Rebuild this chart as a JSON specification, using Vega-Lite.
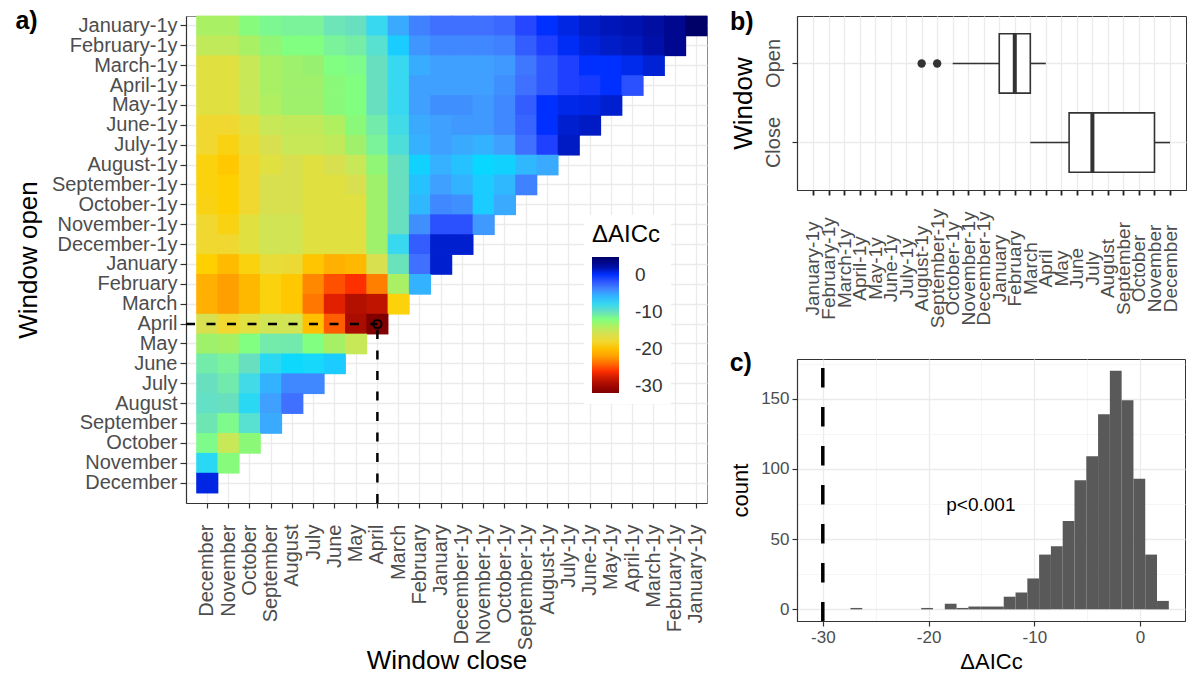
{
"$schema": "https://vega.github.io/schema/vega-lite/v6.json",
"background": "white",
"padding": {"left": 14, "top": 8, "right": 2, "bottom": 2},
"spacing": 21,
"config": {
  "font": "Liberation Sans",
  "view": {"stroke": "#333333", "strokeWidth": 1},
  "axis": {"gridColor": "#EBEBEB", "gridWidth": 1.3, "domainColor": "#333333", "domainWidth": 1.2, "tickColor": "#333333", "tickWidth": 1.2, "tickSize": 5, "labelColor": "#4D4D4D", "labelFontSize": 19, "labelPadding": 3, "titleFontSize": 26, "titleFontWeight": "normal", "titleColor": "black", "titlePadding": 10, "labelOverlap": false, "labelBound": false, "labelFlush": false, "zindex": 0},
  "title": {"fontSize": 25, "fontWeight": "bold", "anchor": "start", "frame": "bounds", "offset": -19, "baseline": "alphabetic", "color": "black"}
},
"datasets": {
  "box": [
    {"window": "Open", "lower": 9, "q1": 12, "median": 13, "q3": 14, "upper": 15},
    {"window": "Close", "lower": 14, "q1": 16.5, "median": 18, "q3": 22, "upper": 23}
  ],
  "outliers": [{"window": "Open", "value": 7}, {"window": "Open", "value": 8}]
},
"hconcat": [
{
  "title": {"text": "a)"},
  "width": 521, "height": 487,
  "view": {"stroke": "#8c8c8c"},
  "layer": [
    {
      "data": {"values": [
{"r":0,"c":0,"v":-13.7},{"r":0,"c":1,"v":-13.7},{"r":0,"c":2,"v":-12.3},{"r":0,"c":3,"v":-11.5},{"r":0,"c":4,"v":-11.2},{"r":0,"c":5,"v":-11.2},{"r":0,"c":6,"v":-10.3},{"r":0,"c":7,"v":-10},{"r":0,"c":8,"v":-8},{"r":0,"c":9,"v":-5.4},{"r":0,"c":10,"v":-3.7},{"r":0,"c":11,"v":-3},{"r":0,"c":12,"v":-3},{"r":0,"c":13,"v":-3},{"r":0,"c":14,"v":-2.7},{"r":0,"c":15,"v":-1.3},{"r":0,"c":16,"v":0},{"r":0,"c":17,"v":0.6},{"r":0,"c":18,"v":1.2},{"r":0,"c":19,"v":1.6},{"r":0,"c":20,"v":1.8},{"r":0,"c":21,"v":2.3},{"r":0,"c":22,"v":3},{"r":0,"c":23,"v":4.7},
{"r":1,"c":0,"v":-14.7},{"r":1,"c":1,"v":-14.7},{"r":1,"c":2,"v":-13.7},{"r":1,"c":3,"v":-12.7},{"r":1,"c":4,"v":-12},{"r":1,"c":5,"v":-12},{"r":1,"c":6,"v":-11.2},{"r":1,"c":7,"v":-10.8},{"r":1,"c":8,"v":-9},{"r":1,"c":9,"v":-6.7},{"r":1,"c":10,"v":-4.6},{"r":1,"c":11,"v":-4},{"r":1,"c":12,"v":-4},{"r":1,"c":13,"v":-4},{"r":1,"c":14,"v":-3.7},{"r":1,"c":15,"v":-2.2},{"r":1,"c":16,"v":-1},{"r":1,"c":17,"v":0.2},{"r":1,"c":18,"v":0.8},{"r":1,"c":19,"v":1.2},{"r":1,"c":20,"v":1.5},{"r":1,"c":21,"v":2},{"r":1,"c":22,"v":3},
{"r":2,"c":0,"v":-17},{"r":2,"c":1,"v":-17},{"r":2,"c":2,"v":-15},{"r":2,"c":3,"v":-13.7},{"r":2,"c":4,"v":-13.3},{"r":2,"c":5,"v":-13},{"r":2,"c":6,"v":-12},{"r":2,"c":7,"v":-11.7},{"r":2,"c":8,"v":-10},{"r":2,"c":9,"v":-8},{"r":2,"c":10,"v":-5.5},{"r":2,"c":11,"v":-5},{"r":2,"c":12,"v":-5},{"r":2,"c":13,"v":-5},{"r":2,"c":14,"v":-4.7},{"r":2,"c":15,"v":-3.3},{"r":2,"c":16,"v":-2},{"r":2,"c":17,"v":-1},{"r":2,"c":18,"v":0},{"r":2,"c":19,"v":0},{"r":2,"c":20,"v":0.4},{"r":2,"c":21,"v":0.9},
{"r":3,"c":0,"v":-17},{"r":3,"c":1,"v":-17},{"r":3,"c":2,"v":-15},{"r":3,"c":3,"v":-13.7},{"r":3,"c":4,"v":-13.3},{"r":3,"c":5,"v":-13.3},{"r":3,"c":6,"v":-12.4},{"r":3,"c":7,"v":-12},{"r":3,"c":8,"v":-10},{"r":3,"c":9,"v":-8},{"r":3,"c":10,"v":-5},{"r":3,"c":11,"v":-5},{"r":3,"c":12,"v":-5},{"r":3,"c":13,"v":-5},{"r":3,"c":14,"v":-4.3},{"r":3,"c":15,"v":-3},{"r":3,"c":16,"v":-2},{"r":3,"c":17,"v":-1},{"r":3,"c":18,"v":-0.7},{"r":3,"c":19,"v":0},{"r":3,"c":20,"v":-1.7},
{"r":4,"c":0,"v":-17},{"r":4,"c":1,"v":-17},{"r":4,"c":2,"v":-15},{"r":4,"c":3,"v":-14},{"r":4,"c":4,"v":-13.3},{"r":4,"c":5,"v":-13.3},{"r":4,"c":6,"v":-12.4},{"r":4,"c":7,"v":-12},{"r":4,"c":8,"v":-10},{"r":4,"c":9,"v":-8},{"r":4,"c":10,"v":-5},{"r":4,"c":11,"v":-4.3},{"r":4,"c":12,"v":-4.3},{"r":4,"c":13,"v":-4.7},{"r":4,"c":14,"v":-4},{"r":4,"c":15,"v":-2.2},{"r":4,"c":16,"v":0},{"r":4,"c":17,"v":0.5},{"r":4,"c":18,"v":0.6},{"r":4,"c":19,"v":1},
{"r":5,"c":0,"v":-18},{"r":5,"c":1,"v":-18},{"r":5,"c":2,"v":-17},{"r":5,"c":3,"v":-15},{"r":5,"c":4,"v":-14.7},{"r":5,"c":5,"v":-14.7},{"r":5,"c":6,"v":-14},{"r":5,"c":7,"v":-12.4},{"r":5,"c":8,"v":-10.7},{"r":5,"c":9,"v":-8.3},{"r":5,"c":10,"v":-5.4},{"r":5,"c":11,"v":-5},{"r":5,"c":12,"v":-4.7},{"r":5,"c":13,"v":-4.7},{"r":5,"c":14,"v":-4},{"r":5,"c":15,"v":-2.5},{"r":5,"c":16,"v":0},{"r":5,"c":17,"v":1},{"r":5,"c":18,"v":1.3},
{"r":6,"c":0,"v":-18},{"r":6,"c":1,"v":-18.6},{"r":6,"c":2,"v":-17.5},{"r":6,"c":3,"v":-16},{"r":6,"c":4,"v":-15},{"r":6,"c":5,"v":-15},{"r":6,"c":6,"v":-14.7},{"r":6,"c":7,"v":-13.3},{"r":6,"c":8,"v":-11.2},{"r":6,"c":9,"v":-8.7},{"r":6,"c":10,"v":-5.7},{"r":6,"c":11,"v":-5},{"r":6,"c":12,"v":-5.4},{"r":6,"c":13,"v":-5.8},{"r":6,"c":14,"v":-5},{"r":6,"c":15,"v":-3},{"r":6,"c":16,"v":-1},{"r":6,"c":17,"v":1.3},
{"r":7,"c":0,"v":-18.7},{"r":7,"c":1,"v":-19.5},{"r":7,"c":2,"v":-18},{"r":7,"c":3,"v":-17},{"r":7,"c":4,"v":-16},{"r":7,"c":5,"v":-17},{"r":7,"c":6,"v":-16},{"r":7,"c":7,"v":-15},{"r":7,"c":8,"v":-12.7},{"r":7,"c":9,"v":-10},{"r":7,"c":10,"v":-7},{"r":7,"c":11,"v":-5.7},{"r":7,"c":12,"v":-6.3},{"r":7,"c":13,"v":-7.3},{"r":7,"c":14,"v":-7},{"r":7,"c":15,"v":-6},{"r":7,"c":16,"v":-5.4},
{"r":8,"c":0,"v":-18.7},{"r":8,"c":1,"v":-19},{"r":8,"c":2,"v":-18},{"r":8,"c":3,"v":-16},{"r":8,"c":4,"v":-16},{"r":8,"c":5,"v":-17},{"r":8,"c":6,"v":-17},{"r":8,"c":7,"v":-16},{"r":8,"c":8,"v":-13.3},{"r":8,"c":9,"v":-10},{"r":8,"c":10,"v":-6.3},{"r":8,"c":11,"v":-5},{"r":8,"c":12,"v":-5.8},{"r":8,"c":13,"v":-6.7},{"r":8,"c":14,"v":-6},{"r":8,"c":15,"v":-3.7},
{"r":9,"c":0,"v":-18.6},{"r":9,"c":1,"v":-19},{"r":9,"c":2,"v":-18},{"r":9,"c":3,"v":-16},{"r":9,"c":4,"v":-16},{"r":9,"c":5,"v":-17},{"r":9,"c":6,"v":-17},{"r":9,"c":7,"v":-17},{"r":9,"c":8,"v":-13.3},{"r":9,"c":9,"v":-10},{"r":9,"c":10,"v":-6},{"r":9,"c":11,"v":-4},{"r":9,"c":12,"v":-4.3},{"r":9,"c":13,"v":-6.7},{"r":9,"c":14,"v":-5.4},
{"r":10,"c":0,"v":-18},{"r":10,"c":1,"v":-18.6},{"r":10,"c":2,"v":-17},{"r":10,"c":3,"v":-15.5},{"r":10,"c":4,"v":-15.5},{"r":10,"c":5,"v":-17},{"r":10,"c":6,"v":-17},{"r":10,"c":7,"v":-17},{"r":10,"c":8,"v":-13.3},{"r":10,"c":9,"v":-10},{"r":10,"c":10,"v":-4.3},{"r":10,"c":11,"v":-1.7},{"r":10,"c":12,"v":-1.7},{"r":10,"c":13,"v":-4.7},
{"r":11,"c":0,"v":-18},{"r":11,"c":1,"v":-18},{"r":11,"c":2,"v":-17},{"r":11,"c":3,"v":-15.5},{"r":11,"c":4,"v":-15.5},{"r":11,"c":5,"v":-17},{"r":11,"c":6,"v":-17},{"r":11,"c":7,"v":-17},{"r":11,"c":8,"v":-13.3},{"r":11,"c":9,"v":-8},{"r":11,"c":10,"v":-2.2},{"r":11,"c":11,"v":1},{"r":11,"c":12,"v":1},
{"r":12,"c":0,"v":-19},{"r":12,"c":1,"v":-20.3},{"r":12,"c":2,"v":-18.7},{"r":12,"c":3,"v":-17.5},{"r":12,"c":4,"v":-17.7},{"r":12,"c":5,"v":-19.7},{"r":12,"c":6,"v":-21},{"r":12,"c":7,"v":-20.5},{"r":12,"c":8,"v":-16},{"r":12,"c":9,"v":-10.2},{"r":12,"c":10,"v":-3},{"r":12,"c":11,"v":1},
{"r":13,"c":0,"v":-21},{"r":13,"c":1,"v":-22},{"r":13,"c":2,"v":-20.5},{"r":13,"c":3,"v":-18.7},{"r":13,"c":4,"v":-19.5},{"r":13,"c":5,"v":-23},{"r":13,"c":6,"v":-25},{"r":13,"c":7,"v":-26},{"r":13,"c":8,"v":-23.3},{"r":13,"c":9,"v":-13.7},{"r":13,"c":10,"v":-5.8},
{"r":14,"c":0,"v":-21},{"r":14,"c":1,"v":-22},{"r":14,"c":2,"v":-20.5},{"r":14,"c":3,"v":-18.7},{"r":14,"c":4,"v":-19.5},{"r":14,"c":5,"v":-23.6},{"r":14,"c":6,"v":-27},{"r":14,"c":7,"v":-29},{"r":14,"c":8,"v":-28.5},{"r":14,"c":9,"v":-18.8},
{"r":15,"c":0,"v":-16},{"r":15,"c":1,"v":-18},{"r":15,"c":2,"v":-17},{"r":15,"c":3,"v":-15.5},{"r":15,"c":4,"v":-15.5},{"r":15,"c":5,"v":-20},{"r":15,"c":6,"v":-24.5},{"r":15,"c":7,"v":-29.5},{"r":15,"c":8,"v":-31.9},
{"r":16,"c":0,"v":-13.3},{"r":16,"c":1,"v":-13.6},{"r":16,"c":2,"v":-12},{"r":16,"c":3,"v":-10.7},{"r":16,"c":4,"v":-10.6},{"r":16,"c":5,"v":-12},{"r":16,"c":6,"v":-13.6},{"r":16,"c":7,"v":-15},
{"r":17,"c":0,"v":-10.7},{"r":17,"c":1,"v":-11.2},{"r":17,"c":2,"v":-10},{"r":17,"c":3,"v":-7.8},{"r":17,"c":4,"v":-7.4},{"r":17,"c":5,"v":-7.5},{"r":17,"c":6,"v":-6.7},
{"r":18,"c":0,"v":-10},{"r":18,"c":1,"v":-10.6},{"r":18,"c":2,"v":-8.3},{"r":18,"c":3,"v":-5.8},{"r":18,"c":4,"v":-4},{"r":18,"c":5,"v":-4},
{"r":19,"c":0,"v":-9.7},{"r":19,"c":1,"v":-10},{"r":19,"c":2,"v":-7.8},{"r":19,"c":3,"v":-5},{"r":19,"c":4,"v":-3},
{"r":20,"c":0,"v":-10.4},{"r":20,"c":1,"v":-11.7},{"r":20,"c":2,"v":-9},{"r":20,"c":3,"v":-5.4},
{"r":21,"c":0,"v":-11.7},{"r":21,"c":1,"v":-15},{"r":21,"c":2,"v":-12.5},
{"r":22,"c":0,"v":-7.8},{"r":22,"c":1,"v":-12.3},
{"r":23,"c":0,"v":0.6}
      ]},
      "mark": {"type": "rect", "opacity": 1, "width": {"band": 1.04}, "height": {"band": 1.04}},
      "encoding": {
        "x": {"field": "c", "type": "ordinal",
          "scale": {"domain": [0,1,2,3,4,5,6,7,8,9,10,11,12,13,14,15,16,17,18,19,20,21,22,23], "paddingInner": 0, "paddingOuter": 0.25, "align": 1},
          "axis": {"title": "Window close", "labelFontSize": 20, "labelPadding": 16, "titlePadding": -2, "labelAngle": -90, "labelExpr": "['December','November','October','September','August','July','June','May','April','March','February','January','December-1y','November-1y','October-1y','September-1y','August-1y','July-1y','June-1y','May-1y','April-1y','March-1y','February-1y','January-1y'][datum.value]", "grid": true}},
        "y": {"field": "r", "type": "ordinal",
          "scale": {"domain": [0,1,2,3,4,5,6,7,8,9,10,11,12,13,14,15,16,17,18,19,20,21,22,23], "paddingInner": 0, "paddingOuter": 0.25, "align": 0},
          "axis": {"title": "Window open", "labelFontSize": 20, "tickSize": 6, "labelPadding": 3, "titlePadding": 10, "labelExpr": "['January-1y','February-1y','March-1y','April-1y','May-1y','June-1y','July-1y','August-1y','September-1y','October-1y','November-1y','December-1y','January','February','March','April','May','June','July','August','September','October','November','December'][datum.value]", "grid": true}},
        "color": {"field": "v", "type": "quantitative",
          "scale": {"interpolate": "rgb",
            "domain": [-31.9,-30,-29,-28,-27,-26,-25,-24,-23,-22,-21,-20,-19,-18,-17,-16,-15,-14,-13,-12,-11,-10,-9,-8,-7.3,-6.5,-6,-5,-4,-3,-2,-1,0,1,2,3,4.74],
            "range": ["#800000","#A00800","#B41000","#C81800","#E02000","#FF3000","#FF5000","#FF6C00","#FF8800","#FFA000","#FFB000","#FFC000","#FFD000","#F0D830","#E0E040","#D8E050","#C8E858","#B0F060","#98F070","#80FF80","#78F0A0","#68E0C0","#58E0D0","#38D8F0","#08D8FF","#20C8FF","#30B8FF","#40A0FF","#4088FF","#4070FF","#3058FF","#2040FF","#0030FF","#0020D0","#0010A8","#000890","#000068"]},
          "legend": {"title": "ΔAICc", "orient": "none", "legendX": 398, "legendY": 199, "values": [0,-10,-20,-30], "labelExpr": "'' + datum.value", "gradientLength": 136, "gradientThickness": 27, "gradientStrokeWidth": 0, "fillColor": "white", "padding": 8, "titleFontSize": 24, "titleFontWeight": "normal", "titleColor": "black", "titlePadding": 10, "labelFontSize": 19, "labelColor": "#333333", "labelOffset": 16, "labelOverlap": false}}
      }
    },
    {
      "data": {"values": [{}]},
      "mark": {"type": "rule", "strokeDash": [9, 11.5], "strokeWidth": 2.5, "color": "black"},
      "encoding": {
        "y": {"datum": 15, "type": "ordinal"},
        "x": {"datum": 0, "type": "ordinal", "bandPosition": -0.5},
        "x2": {"datum": 8}
      }
    },
    {
      "data": {"values": [{}]},
      "mark": {"type": "rule", "strokeDash": [9, 11.5], "strokeWidth": 2.5, "color": "black"},
      "encoding": {
        "x": {"datum": 8, "type": "ordinal"},
        "y": {"datum": 23, "type": "ordinal", "bandPosition": 1.5},
        "y2": {"datum": 15}
      }
    },
    {
      "data": {"values": [{}]},
      "mark": {"type": "point", "shape": "circle", "filled": false, "size": 70, "strokeWidth": 2, "color": "black", "opacity": 1},
      "encoding": {
        "x": {"datum": 8, "type": "ordinal"},
        "y": {"datum": 15, "type": "ordinal"}
      }
    }
  ]
},
{
  "spacing": 21,
  "vconcat": [
    {
      "title": {"text": "b)"},
      "width": 389, "height": 174,
      "encoding": {
        "y": {"field": "window", "type": "nominal",
          "scale": {"domain": ["Open", "Close"], "paddingInner": 0.25, "paddingOuter": 0.225},
          "axis": {"title": "Window", "labelAngle": -90, "labelAlign": "center", "labelBaseline": "bottom", "labelFontSize": 20, "labelPadding": 9, "titlePadding": 7, "grid": true}}
      },
      "layer": [
        {"data": {"name": "box"},
         "mark": {"type": "rule", "color": "#333333", "strokeWidth": 1.6},
         "encoding": {
           "x": {"field": "lower", "type": "quantitative",
             "scale": {"domain": [-1.03, 24.03], "nice": false, "zero": false},
             "axis": {"title": null, "values": [0,1,2,3,4,5,6,7,8,9,10,11,12,13,14,15,16,17,18,19,20,21,22,23], "labelAngle": -90, "labelAlign": "center", "labelBaseline": "middle", "labelPadding": 73, "labelOverlap": false, "labelSeparation": -40, "labelExpr": "['January-1y','February-1y','March-1y','April-1y','May-1y','June-1y','July-1y','August-1y','September-1y','October-1y','November-1y','December-1y','January','February','March','April','May','June','July','August','September','October','November','December'][datum.value]", "grid": true, "tickWidth": 1.8, "tickColor": "#222222"}},
           "x2": {"field": "q1"}
         }},
        {"data": {"name": "box"},
         "mark": {"type": "rule", "color": "#333333", "strokeWidth": 1.6},
         "encoding": {"x": {"field": "q3", "type": "quantitative",
             "axis": {"title": null, "values": [0,1,2,3,4,5,6,7,8,9,10,11,12,13,14,15,16,17,18,19,20,21,22,23], "labelAngle": -90, "labelAlign": "center", "labelBaseline": "middle", "labelPadding": 73, "labelOverlap": false, "labelSeparation": -40, "labelExpr": "['January-1y','February-1y','March-1y','April-1y','May-1y','June-1y','July-1y','August-1y','September-1y','October-1y','November-1y','December-1y','January','February','March','April','May','June','July','August','September','October','November','December'][datum.value]", "grid": true, "tickWidth": 1.8, "tickColor": "#222222"}},
           "x2": {"field": "upper"}}},
        {"data": {"name": "box"},
         "mark": {"type": "bar", "fill": "white", "stroke": "#333333", "strokeWidth": 1.6, "opacity": 1},
         "encoding": {"x": {"field": "q1", "type": "quantitative",
             "axis": {"title": null, "values": [0,1,2,3,4,5,6,7,8,9,10,11,12,13,14,15,16,17,18,19,20,21,22,23], "labelAngle": -90, "labelAlign": "center", "labelBaseline": "middle", "labelPadding": 73, "labelOverlap": false, "labelSeparation": -40, "labelExpr": "['January-1y','February-1y','March-1y','April-1y','May-1y','June-1y','July-1y','August-1y','September-1y','October-1y','November-1y','December-1y','January','February','March','April','May','June','July','August','September','October','November','December'][datum.value]", "grid": true, "tickWidth": 1.8, "tickColor": "#222222"}},
           "x2": {"field": "q3"}}},
        {"data": {"name": "box"},
         "mark": {"type": "rect", "fill": null, "stroke": "#333333", "strokeWidth": 4, "opacity": 1},
         "encoding": {"x": {"field": "median", "type": "quantitative",
             "axis": {"title": null, "values": [0,1,2,3,4,5,6,7,8,9,10,11,12,13,14,15,16,17,18,19,20,21,22,23], "labelAngle": -90, "labelAlign": "center", "labelBaseline": "middle", "labelPadding": 73, "labelOverlap": false, "labelSeparation": -40, "labelExpr": "['January-1y','February-1y','March-1y','April-1y','May-1y','June-1y','July-1y','August-1y','September-1y','October-1y','November-1y','December-1y','January','February','March','April','May','June','July','August','September','October','November','December'][datum.value]", "grid": true, "tickWidth": 1.8, "tickColor": "#222222"}},
           "x2": {"field": "median"}}},
        {"data": {"name": "outliers"},
         "mark": {"type": "point", "filled": true, "color": "#333333", "size": 70, "opacity": 1},
         "encoding": {"x": {"field": "value", "type": "quantitative",
             "axis": {"title": null, "values": [0,1,2,3,4,5,6,7,8,9,10,11,12,13,14,15,16,17,18,19,20,21,22,23], "labelAngle": -90, "labelAlign": "center", "labelBaseline": "middle", "labelPadding": 73, "labelOverlap": false, "labelSeparation": -40, "labelExpr": "['January-1y','February-1y','March-1y','April-1y','May-1y','June-1y','July-1y','August-1y','September-1y','October-1y','November-1y','December-1y','January','February','March','April','May','June','July','August','September','October','November','December'][datum.value]", "grid": true, "tickWidth": 1.8, "tickColor": "#222222"}}}}
      ]
    },
    {
      "title": {"text": "c)"},
      "width": 388, "height": 262,
      "resolve": {"axis": {"x": "independent", "y": "independent"}},
      "layer": [
        {
          "data": {"values": [
            {"bin_start": -27.385, "bin_end": -26.27, "count": 1},
            {"bin_start": -20.695, "bin_end": -19.58, "count": 1},
            {"bin_start": -18.465, "bin_end": -17.35, "count": 4},
            {"bin_start": -17.35, "bin_end": -16.235, "count": 1},
            {"bin_start": -16.235, "bin_end": -15.12, "count": 2},
            {"bin_start": -15.12, "bin_end": -14.005, "count": 2},
            {"bin_start": -14.005, "bin_end": -12.89, "count": 2},
            {"bin_start": -12.89, "bin_end": -11.775, "count": 9},
            {"bin_start": -11.775, "bin_end": -10.66, "count": 12},
            {"bin_start": -10.66, "bin_end": -9.545, "count": 22},
            {"bin_start": -9.545, "bin_end": -8.43, "count": 39},
            {"bin_start": -8.43, "bin_end": -7.315, "count": 45},
            {"bin_start": -7.315, "bin_end": -6.2, "count": 63},
            {"bin_start": -6.2, "bin_end": -5.085, "count": 92},
            {"bin_start": -5.085, "bin_end": -3.97, "count": 109},
            {"bin_start": -3.97, "bin_end": -2.855, "count": 139},
            {"bin_start": -2.855, "bin_end": -1.74, "count": 170},
            {"bin_start": -1.74, "bin_end": -0.625, "count": 149},
            {"bin_start": -0.625, "bin_end": 0.49, "count": 93},
            {"bin_start": 0.49, "bin_end": 1.605, "count": 39},
            {"bin_start": 1.605, "bin_end": 2.72, "count": 6}
          ]},
          "mark": {"type": "rect", "color": "#595959", "opacity": 1},
          "encoding": {
            "x": {"field": "bin_start", "type": "quantitative",
              "scale": {"domain": [-32.44, 4.25], "nice": false, "zero": false},
              "axis": {"title": "ΔAICc", "values": [-30, -20, -10, 0], "labelExpr": "'' + datum.value", "grid": true, "labelFontSize": 17, "titleFontSize": 22, "titlePadding": 6}},
            "x2": {"field": "bin_end"},
            "y": {"field": "count", "type": "quantitative",
              "scale": {"domain": [-8.3, 178.3], "nice": false, "zero": false},
              "axis": {"title": "count", "values": [0, 50, 100, 150], "grid": true, "labelFontSize": 17, "titleFontSize": 22, "titlePadding": 8}},
            "y2": {"datum": 0}
          }
        },
        {
          "data": {"values": [{}]},
          "mark": {"type": "rule", "color": "black", "strokeWidth": 3.5, "strokeDash": [19.5, 19.5], "strokeDashOffset": 30},
          "encoding": {"x": {"datum": -30, "type": "quantitative", "axis": null}}
        },
        {
          "data": {"values": [{}]},
          "mark": {"type": "text", "text": "p<0.001", "fontSize": 19, "color": "black"},
          "encoding": {
            "x": {"datum": -15.05, "type": "quantitative", "axis": {"values": [-25, -15, -5], "grid": true, "gridWidth": 0.8, "gridColor": "#F2F2F2", "labels": false, "ticks": false, "domain": false, "title": null}},
            "y": {"datum": 74.3, "type": "quantitative", "axis": {"values": [25, 75, 125, 175], "grid": true, "gridWidth": 0.8, "gridColor": "#F2F2F2", "labels": false, "ticks": false, "domain": false, "title": null}}
          }
        }
      ]
    }
  ]
}
]
}
